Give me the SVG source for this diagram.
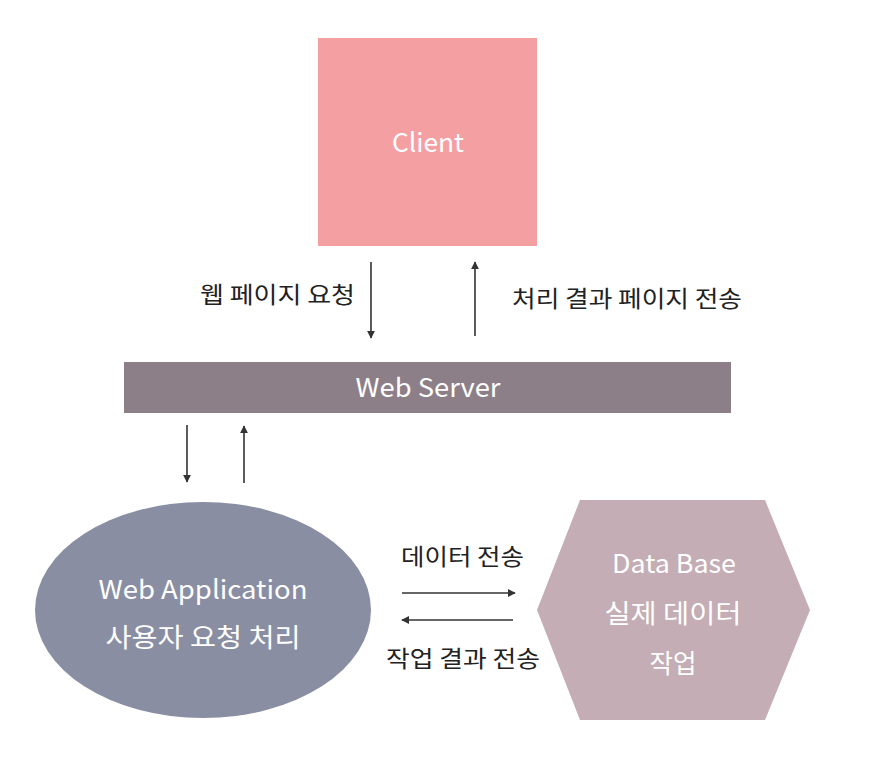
<svg xmlns="http://www.w3.org/2000/svg" width="880" height="758" viewBox="0 0 880 758">
<style>
text{font-family:"Noto Sans CJK KR","Noto Sans",sans-serif;}
.w{fill:#ffffff;font-size:26px;text-anchor:middle;}
.lbl{fill:#222222;font-size:23px;}
.c{stroke:#333333;stroke-width:1.6;fill:none;marker-end:url(#ah);}
</style>
<defs>
<marker id="ah" viewBox="0 0 10 10" refX="9" refY="5" markerWidth="5" markerHeight="5" orient="auto-start-reverse" markerUnits="strokeWidth">
<path d="M0,0 L10,5 L0,10 z" fill="#333333"/>
</marker>
</defs>
<rect width="880" height="758" fill="#ffffff"/>
<g id="client">
<rect x="318" y="38" width="219" height="208" fill="#f4a0a3"/>
<text class="w" x="428" y="152" textLength="72" lengthAdjust="spacingAndGlyphs">Client</text>
</g>
<g id="webserver">
<rect x="124" y="362" width="607" height="51" fill="#8c7f88"/>
<text class="w" x="428" y="397" textLength="145" lengthAdjust="spacingAndGlyphs">Web Server</text>
</g>
<g id="webapp">
<ellipse cx="203" cy="610" rx="168" ry="108" fill="#8a8ea3"/>
<text class="w" x="203" y="599" textLength="209" lengthAdjust="spacingAndGlyphs">Web Application</text>
<text class="w" x="203" y="647" textLength="195" lengthAdjust="spacingAndGlyphs">사용자 요청 처리</text>
</g>
<g id="database">
<polygon points="537,610 580,500 765,500 810,610 765,720 580,720" fill="#c4adb5"/>
<text class="w" x="674" y="573" textLength="124" lengthAdjust="spacingAndGlyphs">Data Base</text>
<text class="w" x="673" y="623" textLength="137" lengthAdjust="spacingAndGlyphs">실제 데이터</text>
<text class="w" x="673" y="673" textLength="47" lengthAdjust="spacingAndGlyphs">작업</text>
</g>
<g id="connectors">
<line class="c" x1="371" y1="262" x2="371" y2="338"/>
<line class="c" x1="475" y1="336" x2="475" y2="262"/>
<line class="c" x1="187" y1="425" x2="187" y2="482"/>
<line class="c" x1="244" y1="483" x2="244" y2="426"/>
<line class="c" x1="402" y1="593" x2="515" y2="593"/>
<line class="c" x1="513" y1="620" x2="402" y2="620"/>
<text class="lbl" x="200" y="303" textLength="155" lengthAdjust="spacingAndGlyphs">웹 페이지 요청</text>
<text class="lbl" x="512" y="307" textLength="230" lengthAdjust="spacingAndGlyphs">처리 결과 페이지 전송</text>
<text class="lbl" x="401" y="565" textLength="123" lengthAdjust="spacingAndGlyphs">데이터 전송</text>
<text class="lbl" x="386" y="667" textLength="154" lengthAdjust="spacingAndGlyphs">작업 결과 전송</text>
</g>
</svg>
